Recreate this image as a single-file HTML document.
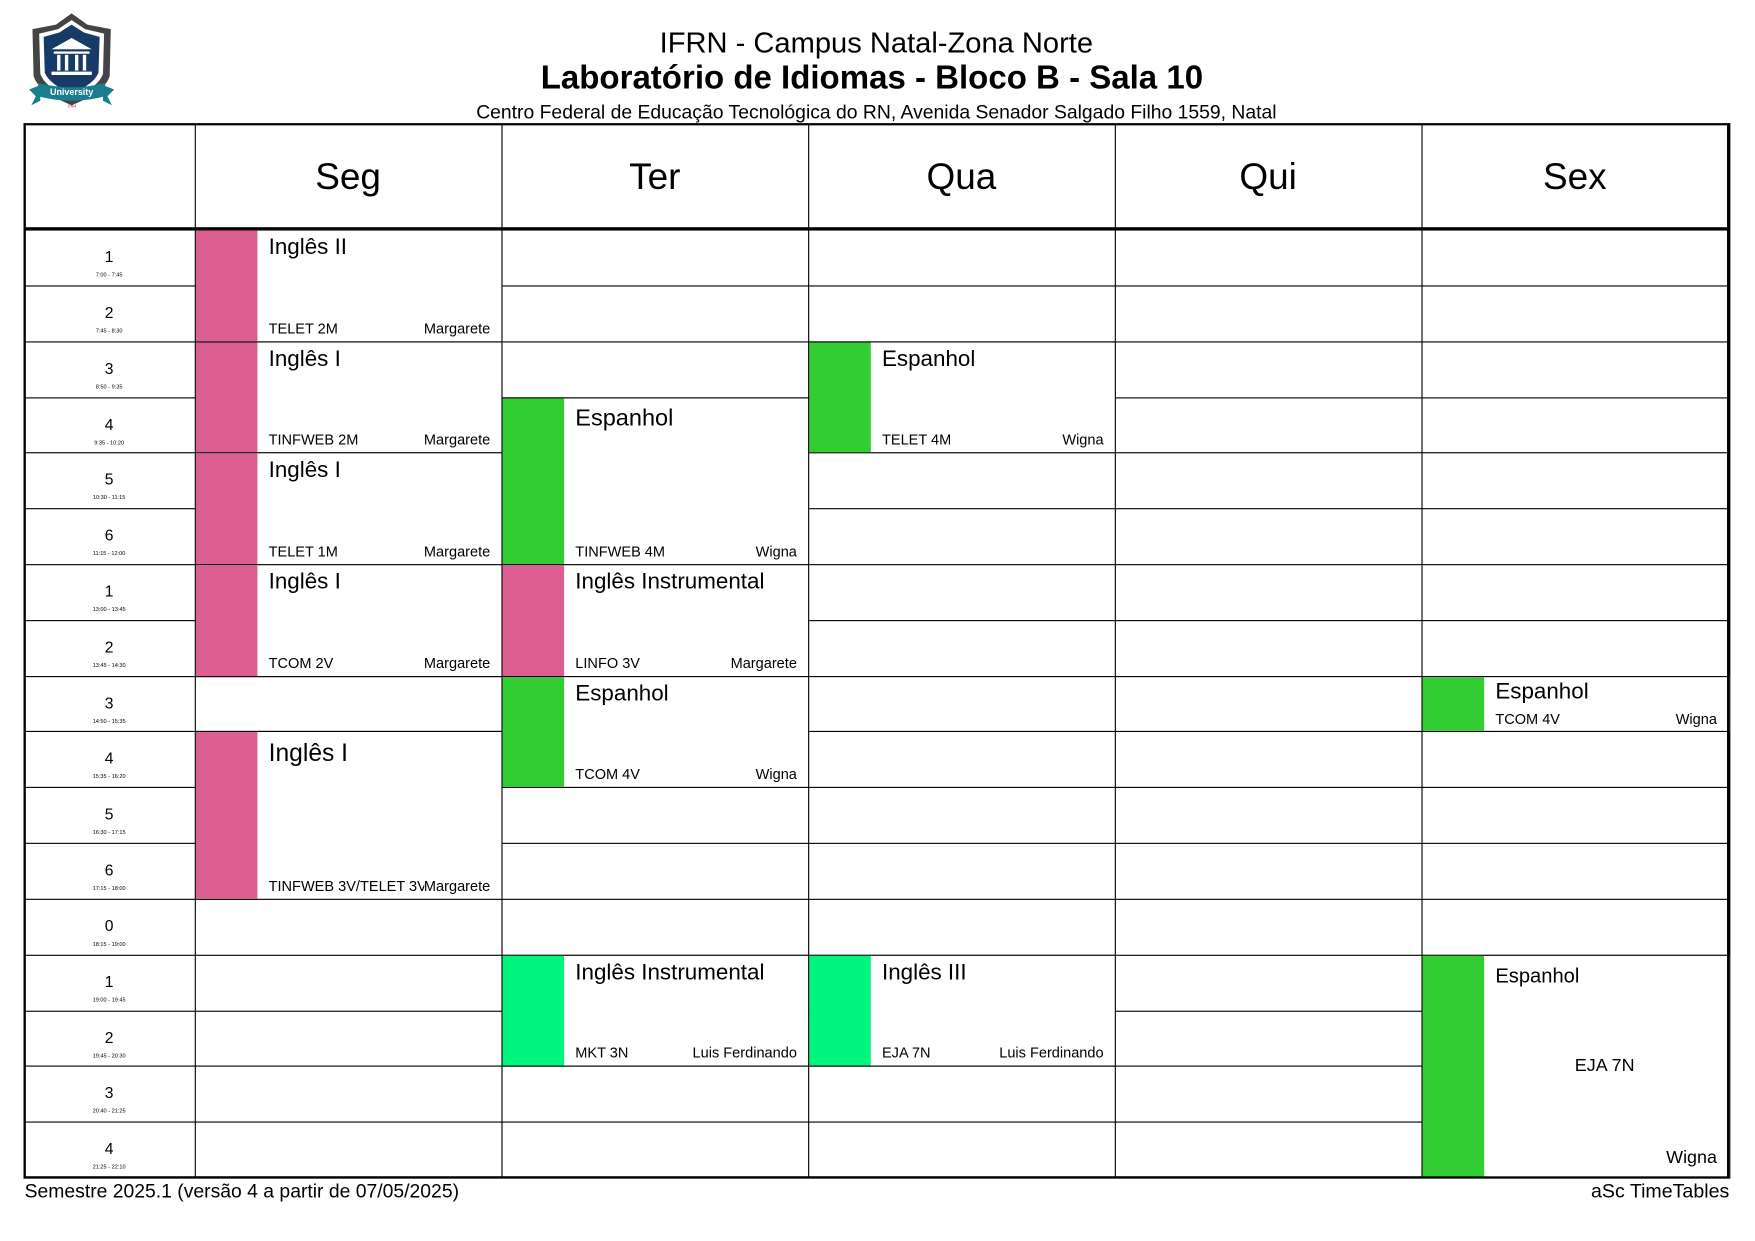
<!DOCTYPE html>
<html><head><meta charset="utf-8">
<style>
html,body{margin:0;padding:0;background:#fff;}
body{width:1755px;height:1241px;overflow:hidden;position:relative;font-family:"Liberation Sans",Arial,sans-serif;color:#000;}
#w{position:absolute;left:0;top:0;width:1568px;height:1109px;transform:scale(1.11926);transform-origin:0 0;}
.a{position:absolute;}
.hl{position:absolute;left:21px;width:1524px;height:0;border-top:1px solid #000;}
.vl{position:absolute;top:111px;height:941px;width:0;border-left:1px solid #000;}
.day{position:absolute;top:111px;height:94px;width:274px;text-align:center;line-height:94px;font-size:33px;}
.p{position:absolute;left:21px;width:153px;height:50px;text-align:center;}
.p b{font-weight:normal;position:absolute;left:0;right:0;top:16px;font-size:14px;}
.p i{font-style:normal;position:absolute;left:0;right:0;top:38px;font-size:5px;}
.ev{position:absolute;width:274px;background:#fff;border-top:1px solid #000;border-bottom:1px solid #000;box-sizing:border-box;}
.bar{position:absolute;left:0;top:0;bottom:0;width:55px;}
.t{position:absolute;left:65px;top:4px;font-size:20px;white-space:nowrap;}
.c{position:absolute;left:65px;bottom:4px;font-size:13px;white-space:nowrap;}
.r{position:absolute;right:11px;bottom:4px;font-size:13px;white-space:nowrap;background:#fff;}
.pk{background:#dd5f91;}.gr{background:#33cc33;}.sg{background:#00f57f;}
</style></head><body><div id="w">
<svg class="a" style="left:24px;top:10px" width="80" height="90" viewBox="0 0 80 90">
<path d="M40 2 L54 12 L75 16 L74 58 Q70 72 40 84 Q10 72 6 58 L5 16 L26 12 Z" fill="#444"/>
<path d="M40 8 L52 16 L69 20 L68 56 Q64 68 40 78 Q16 68 12 56 L11 20 L28 16 Z" fill="#fff"/>
<path d="M40 12 L51 19 L65 23 L64 55 Q60 65 40 74 Q20 65 16 55 L15 23 L29 19 Z" fill="#173a66"/>
<path d="M22 34 L40 24 L58 34 Z" fill="#fff"/>
<rect x="24" y="36" width="32" height="2" fill="#fff"/>
<rect x="27" y="39" width="3" height="14" fill="#fff"/><rect x="34" y="39" width="3" height="14" fill="#fff"/><rect x="43" y="39" width="3" height="14" fill="#fff"/><rect x="50" y="39" width="3" height="14" fill="#fff"/>
<rect x="22" y="54" width="36" height="3" fill="#fff"/>
<path d="M2 70 L12 66 L12 80 L4 84 L8 76 Z" fill="#1a7e8f"/><path d="M78 70 L68 66 L68 80 L76 84 L72 76 Z" fill="#1a7e8f"/>
<path d="M10 64 Q40 72 70 64 L70 76 Q40 84 10 76 Z" fill="#1a7e8f"/>
<text x="40" y="75" font-size="8" font-weight="bold" fill="#fff" text-anchor="middle" font-family="Liberation Sans">University</text>
<text x="40" y="86" font-size="4" fill="#c00" text-anchor="middle" font-family="Liberation Serif">1964</text>
</svg>
<div class="a" style="left:0;width:1566px;top:23px;text-align:center;font-size:26px">IFRN - Campus Natal-Zona Norte</div>
<div class="a" style="left:0;width:1558px;top:53px;text-align:center;font-size:29.5px;font-weight:bold">Laboratório de Idiomas - Bloco B - Sala 10</div>
<div class="a" style="left:0;width:1566px;top:90px;text-align:center;font-size:17.3px">Centro Federal de Educação Tecnológica do RN, Avenida Senador Salgado Filho 1559, Natal</div>

<div class="a" style="left:21px;top:110px;width:1521px;height:939px;border:2px solid #000"></div>
<div class="a" style="left:21px;top:203px;width:1524px;height:3px;background:#000"></div>
<div class="day" style="left:174px">Seg</div><div class="day" style="left:448px">Ter</div><div class="day" style="left:722px">Qua</div><div class="day" style="left:996px">Qui</div><div class="day" style="left:1270px">Sex</div>

<div class="hl" style="top:254.8px"></div><div class="hl" style="top:304.6px"></div><div class="hl" style="top:354.5px"></div><div class="hl" style="top:404.3px"></div><div class="hl" style="top:454.1px"></div><div class="hl" style="top:503.9px"></div><div class="hl" style="top:553.7px"></div><div class="hl" style="top:603.6px"></div><div class="hl" style="top:653.4px"></div><div class="hl" style="top:703.2px"></div><div class="hl" style="top:753px"></div><div class="hl" style="top:802.8px"></div><div class="hl" style="top:852.7px"></div><div class="hl" style="top:902.5px"></div><div class="hl" style="top:952.3px"></div><div class="hl" style="top:1002.1px"></div>

<div class="p" style="top:205px"><b>1</b><i>7:00 - 7:45</i></div>
<div class="p" style="top:254.8px"><b>2</b><i>7:45 - 8:30</i></div>
<div class="p" style="top:304.6px"><b>3</b><i>8:50 - 9:35</i></div>
<div class="p" style="top:354.5px"><b>4</b><i>9:35 - 10:20</i></div>
<div class="p" style="top:404.3px"><b>5</b><i>10:30 - 11:15</i></div>
<div class="p" style="top:454.1px"><b>6</b><i>11:15 - 12:00</i></div>
<div class="p" style="top:503.9px"><b>1</b><i>13:00 - 13:45</i></div>
<div class="p" style="top:553.7px"><b>2</b><i>13:45 - 14:30</i></div>
<div class="p" style="top:603.6px"><b>3</b><i>14:50 - 15:35</i></div>
<div class="p" style="top:653.4px"><b>4</b><i>15:35 - 16:20</i></div>
<div class="p" style="top:703.2px"><b>5</b><i>16:30 - 17:15</i></div>
<div class="p" style="top:753px"><b>6</b><i>17:15 - 18:00</i></div>
<div class="p" style="top:802.8px"><b>0</b><i>18:15 - 19:00</i></div>
<div class="p" style="top:852.7px"><b>1</b><i>19:00 - 19:45</i></div>
<div class="p" style="top:902.5px"><b>2</b><i>19:45 - 20:30</i></div>
<div class="p" style="top:952.3px"><b>3</b><i>20:40 - 21:25</i></div>
<div class="p" style="top:1002.1px"><b>4</b><i>21:25 - 22:10</i></div>

<!-- Seg -->
<div class="ev" style="left:175px;top:205px;height:100.6px"><div class="bar pk"></div><div class="t">Inglês II</div><div class="c">TELET 2M</div><div class="r">Margarete</div></div>
<div class="ev" style="left:175px;top:304.6px;height:100.7px"><div class="bar pk"></div><div class="t">Inglês I</div><div class="c">TINFWEB 2M</div><div class="r">Margarete</div></div>
<div class="ev" style="left:175px;top:404.3px;height:100.6px"><div class="bar pk"></div><div class="t">Inglês I</div><div class="c">TELET 1M</div><div class="r">Margarete</div></div>
<div class="ev" style="left:175px;top:503.9px;height:100.7px"><div class="bar pk"></div><div class="t">Inglês I</div><div class="c">TCOM 2V</div><div class="r">Margarete</div></div>
<div class="ev" style="left:175px;top:653.4px;height:150.4px"><div class="bar pk"></div><div class="t" style="top:6px;font-size:22px">Inglês I</div><div class="c">TINFWEB 3V/TELET 3V</div><div class="r">Margarete</div></div>
<!-- Ter -->
<div class="ev" style="left:449px;top:354.5px;height:150.4px"><div class="bar gr"></div><div class="t" style="top:6px;font-size:21px">Espanhol</div><div class="c">TINFWEB 4M</div><div class="r">Wigna</div></div>
<div class="ev" style="left:449px;top:503.9px;height:100.7px"><div class="bar pk"></div><div class="t">Inglês Instrumental</div><div class="c">LINFO 3V</div><div class="r">Margarete</div></div>
<div class="ev" style="left:449px;top:603.6px;height:100.6px"><div class="bar gr"></div><div class="t">Espanhol</div><div class="c">TCOM 4V</div><div class="r">Wigna</div></div>
<div class="ev" style="left:449px;top:852.7px;height:100.6px"><div class="bar sg"></div><div class="t">Inglês Instrumental</div><div class="c">MKT 3N</div><div class="r">Luis Ferdinando</div></div>
<!-- Qua -->
<div class="ev" style="left:723px;top:304.6px;height:100.7px"><div class="bar gr"></div><div class="t">Espanhol</div><div class="c">TELET 4M</div><div class="r">Wigna</div></div>
<div class="ev" style="left:723px;top:852.7px;height:100.6px"><div class="bar sg"></div><div class="t">Inglês III</div><div class="c">EJA 7N</div><div class="r">Luis Ferdinando</div></div>
<!-- Sex -->
<div class="ev" style="left:1271px;top:603.6px;height:50.8px"><div class="bar gr"></div><div class="t" style="top:2px">Espanhol</div><div class="c" style="bottom:3px">TCOM 4V</div><div class="r" style="bottom:3px">Wigna</div></div>
<div class="ev" style="left:1271px;top:852.7px;height:199.3px;border-bottom:none"><div class="bar gr"></div><div class="t" style="top:8px;font-size:18px">Espanhol</div><div class="a" style="left:136px;top:90px;font-size:16px">EJA 7N</div><div class="r" style="font-size:16px;bottom:8px">Wigna</div></div>

<div class="vl" style="left:174px"></div><div class="vl" style="left:448px"></div><div class="vl" style="left:722px"></div><div class="vl" style="left:996px"></div><div class="vl" style="left:1270px"></div>
<div class="a" style="left:21px;top:110px;width:2px;height:943px;background:#000"></div>
<div class="a" style="left:1543px;top:110px;width:2px;height:943px;background:#000"></div>
<div class="a" style="left:21px;top:1051px;width:1524px;height:2px;background:#000"></div>
<div class="a" style="left:22px;top:1054px;font-size:17.3px">Semestre 2025.1 (versão 4 a partir de 07/05/2025)</div>
<div class="a" style="right:23px;top:1054px;font-size:17.5px">aSc TimeTables</div>
</div></body></html>
